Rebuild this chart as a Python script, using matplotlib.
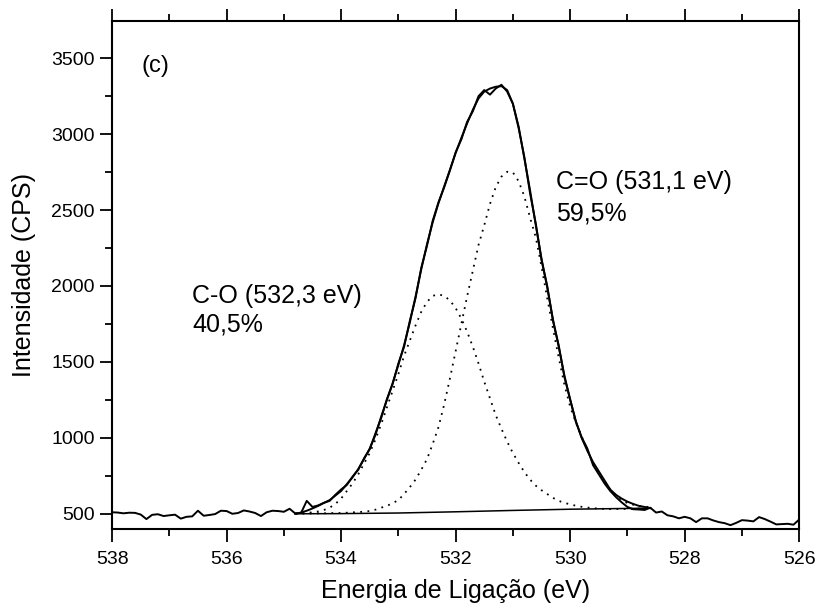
import numpy as np
import matplotlib
matplotlib.use("Agg")
import matplotlib.pyplot as plt
from matplotlib.ticker import MultipleLocator

plt.rcParams['font.family'] = ['Liberation Sans', 'DejaVu Sans']

# measured spectrum, 538.0 -> 526.0 eV, step 0.1 eV
energy_raw = np.round(np.arange(538.0, 525.95, -0.1), 1)
counts_raw = [
    510, 508, 503, 507, 506, 495, 465, 493, 497, 485,
    490, 494, 468, 480, 483, 520, 487, 492, 498, 520,
    518, 500, 505, 522, 515, 505, 485, 510, 520, 518,
    513, 533, 502, 505, 585, 545, 555, 572, 585, 625,
    660, 690, 745, 790, 865, 925, 1030, 1130, 1255, 1355,
    1490, 1600, 1770, 1920, 2120, 2265, 2430, 2550, 2650, 2760,
    2880, 2965, 3080, 3150, 3250, 3290, 3260, 3300, 3325, 3280,
    3200, 3040, 2850, 2610, 2410, 2170, 2000, 1770, 1610, 1400,
    1255, 1105, 1005, 930, 820, 760, 700, 650, 610, 575,
    545, 530, 528, 525, 540, 508, 515, 490, 483, 470,
    480, 470, 445, 470, 470, 456, 445, 438, 425, 440,
    458, 455, 450, 478, 465, 448, 430, 432, 434, 428,
    462,
]

# fit region, 534.8 -> 528.6 eV, step 0.1 eV
energy_fit = np.round(np.arange(534.8, 528.55, -0.1), 1)
envelope = [
    500, 508, 520, 535, 552, 572, 590, 620, 650, 695,
    740, 795, 860, 930, 1020, 1140, 1250, 1360, 1480, 1610,
    1760, 1930, 2110, 2275, 2420, 2545, 2655, 2765, 2875, 2975,
    3070, 3160, 3235, 3280, 3300, 3312, 3316, 3290, 3200, 3050,
    2840, 2630, 2400, 2180, 1990, 1780, 1600, 1410, 1250, 1110,
    1000, 915, 840, 780, 720, 660, 625, 600, 580, 565,
    552, 545, 537,
]
peak_co = [  # C-O, 532.3 eV
    502, 503, 505, 510, 515, 525, 540, 565, 600, 650,
    700, 760, 830, 900, 990, 1090, 1200, 1310, 1420, 1540,
    1640, 1740, 1830, 1895, 1935, 1945, 1935, 1905, 1855, 1785,
    1700, 1600, 1490, 1370, 1260, 1150, 1060, 975, 900, 835,
    775, 725, 685, 655, 630, 605, 585, 572, 562, 553,
    546, 541, 537, 534, 532, 531, 531, 532, 532, 533,
    534, 535, 536,
]
peak_c_eq_o = [  # C=O, 531.1 eV
    500, 501, 502, 502, 503, 503, 504, 505, 505, 507,
    509, 511, 514, 518, 527, 540, 552, 570, 590, 630,
    675, 725, 790, 860, 960, 1070, 1220, 1390, 1570, 1750,
    1930, 2100, 2270, 2400, 2540, 2650, 2720, 2752, 2748, 2690,
    2590, 2450, 2320, 2127, 1920, 1720, 1530, 1350, 1206, 1100,
    1010, 920, 835, 770, 715, 660, 620, 590, 570, 560,
    552, 547, 544,
]

energy_bg = [534.8, 534.0, 533.0, 532.0, 531.0, 530.0, 529.0, 528.6]
background = [500, 501, 505, 513, 522, 530, 535, 537]

fig = plt.figure(figsize=(8.18, 6.08), dpi=100)
ax = fig.add_axes([0.137, 0.130, 0.840, 0.8355])

ax.plot(energy_raw, counts_raw, color='black', lw=1.4)
ax.plot(energy_fit, envelope, color='black', lw=1.4)
ax.plot(energy_bg, background, color='black', lw=1.1)
ax.plot(energy_fit, peak_co, color='black', lw=1.3, linestyle=(0, (1, 3)))
ax.plot(energy_fit, peak_c_eq_o, color='black', lw=1.3, linestyle=(0, (1, 3)))

ax.set_xlim(538, 526)
ax.set_ylim(400, 3745)
ax.xaxis.set_major_locator(MultipleLocator(2))
ax.xaxis.set_minor_locator(MultipleLocator(1))
ax.yaxis.set_major_locator(MultipleLocator(500))
ax.yaxis.set_minor_locator(MultipleLocator(250))
ax.tick_params(which='both', direction='out', top=True, right=False,
               labelsize=14, width=1.3)
ax.tick_params(which='major', length=9)
ax.tick_params(axis='x', which='major', pad=7)
ax.tick_params(which='minor', length=5)
for s in ax.spines.values():
    s.set_linewidth(1.5)

ax.set_xlabel('Energia de Ligação (eV)', fontsize=18, labelpad=8)
ax.set_ylabel('Intensidade (CPS)', fontsize=18, labelpad=11)

ax.text(537.48, 3450, '(c)', fontsize=17, va='center')
ax.text(530.24, 2685, 'C=O (531,1 eV)', fontsize=18, va='center')
ax.text(530.24, 2480, '59,5%', fontsize=18, va='center')
ax.text(536.6, 1935, 'C-O (532,3 eV)', fontsize=18, va='center')
ax.text(536.6, 1744, '40,5%', fontsize=18, va='center')

fig.savefig('out.png', dpi=100)
